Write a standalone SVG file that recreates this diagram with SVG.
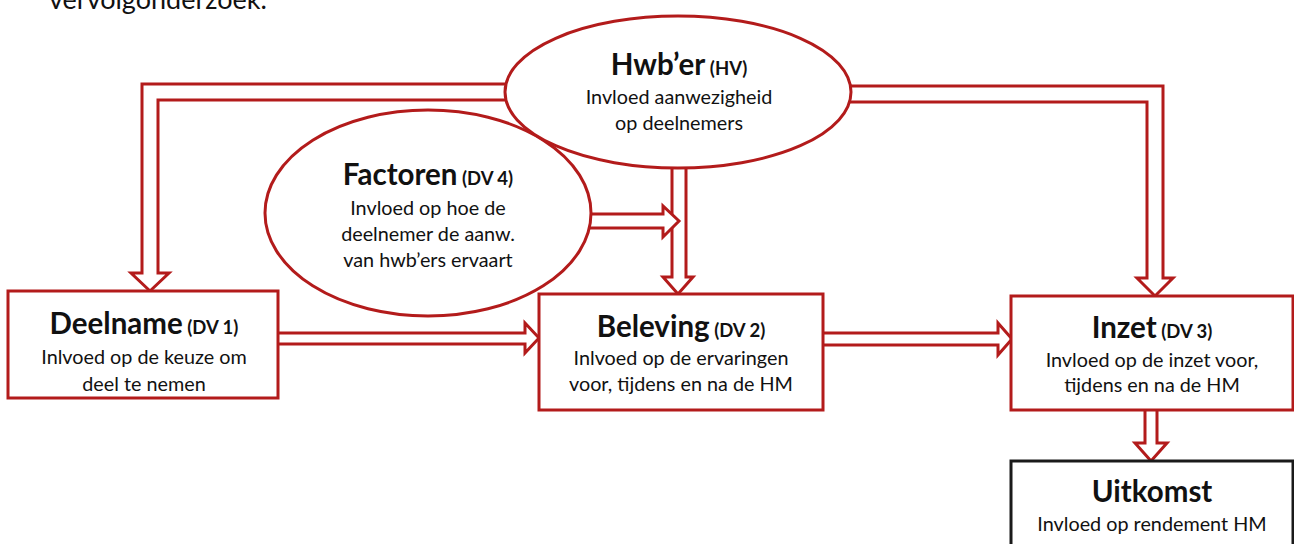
<svg xmlns="http://www.w3.org/2000/svg" width="1294" height="544" viewBox="0 0 1294 544">
<style>
.box{fill:#fff;stroke:#b31b1b;stroke-width:3}
.blk{fill:#fff;stroke:#1a1a1a;stroke-width:3}
.ell{fill:#fff;stroke:#b31b1b;stroke-width:3}
.arr{fill:#fff;stroke:#b31b1b;stroke-width:3;stroke-linejoin:miter}
text{font-family:Lato,"Open Sans","Liberation Sans",sans-serif;fill:#111;text-anchor:middle}
.t{font-size:29.5px;font-weight:bold}
.s{font-size:18.5px;font-weight:bold}
.b{font-size:19.8px}
</style>
<text x="49" y="9" style="font-size:27px;text-anchor:start">vervolgonderzoek.</text>
<g id="connectors">
<path class="arr" d="M508 84 H142 V273 H131 L150 291 L169 273 H158 V100 H508"/>
<path class="arr" d="M848 86 H1163 V278 H1173 L1155 296 L1137 278 H1147 V102 H848"/>
<path class="arr" d="M672 155 V277 H663 L678 294 L693 277 H686 V155"/>
<path class="arr" d="M586 214 H663 V206 L679 221 L663 237 V228 H586"/>
<path class="arr" d="M279 333 H525 V323 L539 338 L525 353 V344 H279"/>
<path class="arr" d="M824 333 H998 V323 L1012 339 L998 355 V345 H824"/>
<path class="arr" d="M1145 411 V443 H1135 L1151 461 L1167 443 H1157 V411"/>
</g>
<g id="factoren">
<ellipse class="ell" cx="428" cy="213" rx="163" ry="103"/>
<text x="428" y="185"><tspan class="t">Factoren</tspan><tspan class="s"> (DV 4)</tspan></text>
<text class="b" x="428" y="215">Invloed op hoe de</text>
<text class="b" x="428" y="241">deelnemer de aanw.</text>
<text class="b" x="428" y="267">van hwb’ers ervaart</text>
</g>
<g id="hwber">
<ellipse class="ell" cx="678" cy="92" rx="173" ry="76"/>
<text x="679" y="75"><tspan class="t">Hwb’er</tspan><tspan class="s"> (HV)</tspan></text>
<text class="b" x="679" y="104">Invloed aanwezigheid</text>
<text class="b" x="679" y="130">op deelnemers</text>
</g>
<g id="deelname">
<rect class="box" x="8" y="291" width="270" height="107"/>
<text x="144" y="334"><tspan class="t">Deelname</tspan><tspan class="s"> (DV 1)</tspan></text>
<text class="b" x="144" y="364">Inlvoed op de keuze om</text>
<text class="b" x="144" y="391">deel te nemen</text>
</g>
<g id="beleving">
<rect class="box" x="539" y="294" width="284" height="116"/>
<text x="681" y="337"><tspan class="t">Beleving</tspan><tspan class="s"> (DV 2)</tspan></text>
<text class="b" x="681" y="365">Inlvoed op de ervaringen</text>
<text class="b" x="681" y="391">voor, tijdens en na de HM</text>
</g>
<g id="inzet">
<rect class="box" x="1011" y="296" width="282" height="114"/>
<text x="1152" y="338"><tspan class="t">Inzet</tspan><tspan class="s"> (DV 3)</tspan></text>
<text class="b" x="1152" y="367">Invloed op de inzet voor,</text>
<text class="b" x="1152" y="392">tijdens en na de HM</text>
</g>
<g id="uitkomst">
<rect class="blk" x="1011" y="461" width="282" height="100"/>
<text class="t" x="1152" y="502">Uitkomst</text>
<text class="b" x="1152" y="531">Invloed op rendement HM</text>
</g>
</svg>
